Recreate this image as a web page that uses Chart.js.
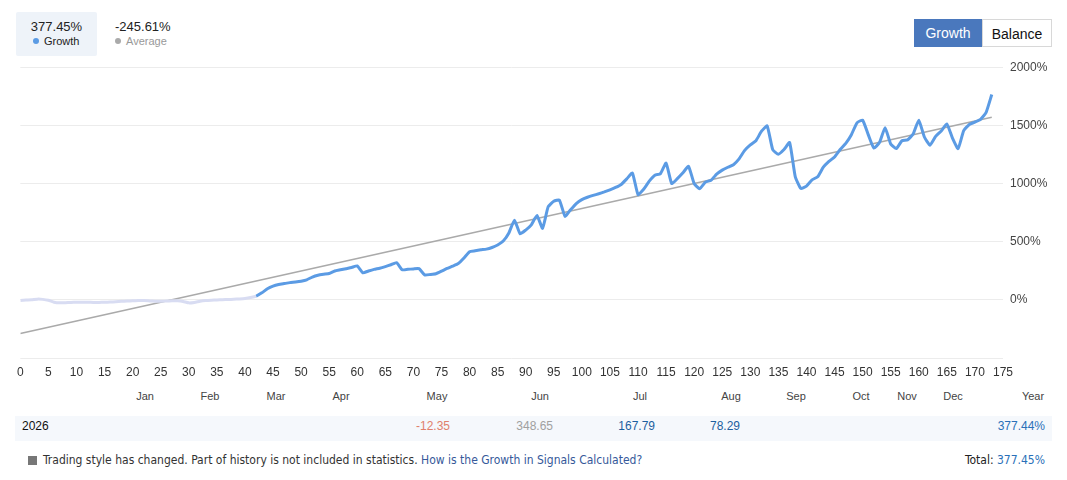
<!DOCTYPE html>
<html>
<head>
<meta charset="utf-8">
<script src="https://cdn.jsdelivr.net/npm/chart.js@4.4.1/dist/chart.umd.min.js"></script>
<style>
  body { margin: 0; background: #fff; font-family: 'Liberation Sans', Arial, sans-serif; color: #222; }
  #page { position: relative; width: 1067px; height: 480px; overflow: hidden; }
  .legend { position: absolute; top: 12px; height: 44px; box-sizing: border-box; padding: 7px 0 0 0; }
  .legend .val { font-size: 13px; text-align: center; }
  .legend .name { font-size: 11px; margin-top: 1px; }
  .legend .dot { display: inline-block; width: 6px; height: 6px; border-radius: 3px; margin-right: 5px; vertical-align: 1px; }
  #lgGrowth { left: 16px; width: 81px; background: #eef3f9; border-radius: 2px; }
  #lgGrowth .name { padding-left: 17px; color: #222; }
  #lgAvg { left: 109px; width: 80px; }
  #lgAvg .val { text-align: left; padding-left: 6px; }
  #lgAvg .name { padding-left: 6px; color: #999; }
  .btns { position: absolute; left: 914px; top: 19px; display: flex; }
  .btns div { height: 28px; line-height: 28px; font-size: 14px; box-sizing: border-box; }
  .btn-on { width: 68px; background: #4a78bd; color: #fff; text-align: center; }
  .btn-off { width: 70px; border: 1px solid #d8d8d8; color: #111; text-align: center; }
  #wrap { position: absolute; left: 10px; top: 53px; width: 1050px; height: 329px; }
  .month { position: absolute; top: 390px; font-size: 11px; color: #444; transform: translateX(-50%); }
  #row { position: absolute; left: 15px; top: 416px; width: 1037px; height: 25px; background: #f5f8fc; }
  .cell { position: absolute; top: 419px; font-size: 12px; transform: translateX(-100%); }
  #foot { position: absolute; left: 28px; top: 453px; font-size: 12px; color: #333; font-family: 'Liberation Sans Narrow', 'DejaVu Sans Condensed', sans-serif; }
  #foot .ico { display: inline-block; width: 9px; height: 9px; background: #777; margin-right: 6px; vertical-align: -1px; }
  #foot a { color: #36599a; text-decoration: none; }
  #total { position: absolute; right: 22px; top: 453px; font-size: 12px; color: #222; font-family: 'Liberation Sans Narrow', 'DejaVu Sans Condensed', sans-serif; }
  #total span { color: #2a70b8; }
</style>
</head>
<body>
<div id="page">
  <div class="legend" id="lgGrowth">
    <div class="val" id="growthVal"></div>
    <div class="name"><span class="dot" style="background:#5b9be4"></span>Growth</div>
  </div>
  <div class="legend" id="lgAvg">
    <div class="val" id="avgVal"></div>
    <div class="name"><span class="dot" style="background:#aaa"></span>Average</div>
  </div>
  <div class="btns"><div class="btn-on">Growth</div><div class="btn-off">Balance</div></div>
  <div id="wrap"><canvas id="growthChart"></canvas></div>
  <div id="row"></div>
  <div id="foot"><span class="ico"></span>Trading style has changed. Part of history is not included in statistics. <a href="#">How is the Growth in Signals Calculated?</a></div>
  <div id="total">Total: <span id="totalVal"></span></div>
</div>
<script>
// Growth curve, one value per trade (%)
const growth = [
  -5, -2, 0, 6, 4, -4, -20, -26, -24, -22,
  -21, -20, -21, -22, -22, -21, -19, -16, -13, -10,
  -8, -6, -6, -9, -12, -13, -10, -8, -8, -14,
  -26, -22, -12, -6, -3, -1, 1, 3, 5, 8,
  12, 20, 32, 60, 95, 118, 132, 140, 148, 153,
  160, 172, 196, 212, 220, 226, 248, 258, 268, 278,
  292, 232, 248, 262, 272, 286, 302, 320, 258, 262,
  266, 268, 214, 218, 224, 246, 270, 290, 312, 360,
  414, 422, 430, 436, 450, 472, 505, 575, 684, 568,
  600, 645, 726, 615, 800, 848, 858, 718, 775, 828,
  862, 882, 898, 912, 928, 946, 966, 992, 1040, 1090,
  905, 950, 1020, 1072, 1085, 1176, 1000, 1042, 1092, 1148,
  1000, 955, 1012, 1028, 1080, 1115, 1140, 1162, 1212, 1285,
  1332, 1368, 1450, 1495, 1290, 1252, 1292, 1352, 1060, 958,
  978, 1032, 1058, 1140, 1190, 1228, 1292, 1345, 1420, 1522,
  1545, 1420, 1305, 1352, 1480, 1340, 1300, 1368, 1375, 1425,
  1545, 1400, 1330, 1405, 1452, 1512, 1390, 1300, 1455, 1508,
  1528, 1552, 1612, 1765
];
// trades before this index are excluded history (drawn pale)
const historyStart = 42;

// Average trend line end points
const averageX = [0, 173];
const averageY = [-290, 1570];

// Header figures
const growthTotal = '377.45%';
const averageTotal = '-245.61%';

// Monthly table
const months = ['Jan', 'Feb', 'Mar', 'Apr', 'May', 'Jun', 'Jul', 'Aug', 'Sep', 'Oct', 'Nov', 'Dec', 'Year'];
const tableYear = '2026';
const monthly = [null, null, null, null, '-12.35', '348.65', '167.79', '78.29', null, null, null, null, '377.44%'];

// layout of the table (px)
const monthX = [145, 210, 276, 341, 437, 540, 640, 731, 796, 861, 907, 953, 1033];
const cellRight = [0, 0, 0, 0, 450, 553, 655, 740, 0, 0, 0, 0, 1045];
const cellColor = ['', '', '', '', '#e0806c', '#a0a0a0', '#1d5f9f', '#1d5f9f', '', '', '', '', '#2a70b8'];

document.getElementById('growthVal').textContent = growthTotal;
document.getElementById('avgVal').textContent = averageTotal;
document.getElementById('totalVal').textContent = growthTotal;

const page = document.getElementById('page');
months.forEach((m, i) => {
    const el = document.createElement('div');
    el.className = 'month';
    el.style.left = monthX[i] + 'px';
    el.textContent = m;
    page.appendChild(el);
});
const yr = document.createElement('div');
yr.className = 'cell';
yr.style.left = '22px';
yr.style.transform = 'none';
yr.style.color = '#111';
yr.textContent = tableYear;
page.appendChild(yr);
monthly.forEach((v, i) => {
    if (v === null) return;
    const el = document.createElement('div');
    el.className = 'cell';
    el.style.left = cellRight[i] + 'px';
    el.style.color = cellColor[i];
    el.textContent = v;
    page.appendChild(el);
});

Chart.defaults.font.family = "'Liberation Sans', Arial, sans-serif";
Chart.defaults.font.size = 12;
Chart.defaults.color = '#333';

const ctx = document.getElementById('growthChart').getContext('2d');
const growthChart = new Chart(ctx, {
    type: 'line',
    data: {
        datasets: [{
            label: 'Growth',
            data: growth.map((v, i) => ({ x: i, y: v })),
            borderColor: '#5b9be4',
            borderWidth: 3,
            pointRadius: 0,
            tension: 0.15,
            segment: {
                borderColor: c => c.p0DataIndex < historyStart ? '#d8dcf2' : '#5b9be4'
            },
            order: 0
        }, {
            label: 'Average',
            data: averageX.map((x, i) => ({ x: x, y: averageY[i] })),
            borderColor: '#aaaaaa',
            borderWidth: 1.6,
            pointRadius: 0,
            order: 1
        }]
    },
    options: {
        responsive: true,
        maintainAspectRatio: false,
        animation: false,
        layout: { padding: { left: 7, top: 0, right: 0, bottom: 0 } },
        plugins: {
            legend: { display: false },
            tooltip: { enabled: false }
        },
        scales: {
            x: {
                type: 'linear',
                min: 0,
                max: 175,
                grid: { display: false, drawTicks: false },
                border: { display: false },
                ticks: { stepSize: 5, padding: 7, color: '#333', maxRotation: 0, autoSkip: false },
                afterFit: s => { s.height = 24; }
            },
            y: {
                position: 'right',
                min: -500,
                max: 2000,
                grid: { color: '#ececec', drawTicks: false },
                border: { display: false },
                ticks: {
                    stepSize: 500,
                    padding: 7,
                    color: '#444',
                    callback: v => v === -500 ? '' : v + '%'
                },
                afterFit: s => { s.width = 57; }
            }
        }
    }
});
</script>
</body>
</html>
